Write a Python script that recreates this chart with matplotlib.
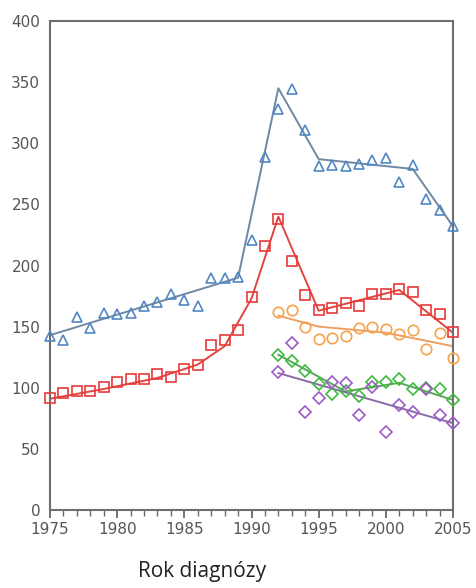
import matplotlib.pyplot as plt

years = list(range(1975, 2006))
years_late = list(range(1992, 2006))

blue = [142, 139, 158, 149, 161, 160, 161, 167, 170, 177, 172, 167, 190, 190, 191,
        221, 289, 328, 344, 311, 281, 282, 281, 283, 286, 288, 268, 282, 254, 245, 232]
red = [92, 96, 97, 97, 101, 105, 107, 107, 111, 109, 115, 119, 135, 139, 147,
       174, 216, 238, 204, 176, 164, 165, 169, 167, 177, 177, 181, 178, 164, 160, 146]
orange = [162, 164, 150, 140, 141, 142, 149, 150, 148, 144, 147, 132, 145, 124]
green = [127, 122, 114, 103, 95, 97, 93, 105, 105, 107, 99, 100, 99, 90]
purple = [113, 137, 80, 92, 105, 104, 78, 101, 64, 86, 80, 99, 78, 71]

# trend lines (joinpoint knots)
blue_fit_x = [1975, 1989, 1992, 1995, 2002, 2005]
blue_fit = [143, 190, 345, 287, 279, 232]
red_fit_x = [1975, 1979, 1983, 1986, 1988, 1990, 1992, 1995, 2001, 2005]
red_fit = [91, 99, 108, 119, 134, 173, 240, 163, 180, 145]
orange_fit_x = [1992, 1995, 2000, 2005]
orange_fit = [159, 150, 145, 134]
green_fit_x = [1992, 1997, 2001, 2005]
green_fit = [127, 97, 104, 90]
purple_fit_x = [1992, 2005]
purple_fit = [112, 71]

fig = plt.figure(figsize=(4.77, 5.88), dpi=100)
ax = fig.add_axes([50 / 477, 1 - 510 / 588, 403 / 477, 489 / 588])

series = [
    (years, blue, blue_fit_x, blue_fit, '#5087c4', '#6f88a4', '^', 7.5),
    (years, red, red_fit_x, red_fit, '#e83a3a', '#e0453f', 's', 6.5),
    (years_late, orange, orange_fit_x, orange_fit, '#f7a24a', '#eba165', 'o', 7.5),
    (years_late, green, green_fit_x, green_fit, '#3dba3d', '#5aa75a', 'D', 6),
    (years_late, purple, purple_fit_x, purple_fit, '#9b5cc8', '#8a6ca6', 'D', 6),
]
for x, y, fx, fy, c, lc, m, ms in series:
    ax.plot(fx, fy, color=lc, lw=1.4, zorder=2)
    ax.plot(x, y, linestyle='none', marker=m, ms=ms, mfc='none', mec=c, mew=1.2,
            zorder=3, clip_on=False)

ax.set_xlim(1975, 2005)
ax.set_ylim(0, 400)
ax.set_xticks(range(1975, 2006, 5))
ax.set_xticks(range(1975, 2006), minor=True)
ax.set_yticks(range(0, 401, 50))
ax.tick_params(axis='x', which='major', direction='out', length=6, width=1.3, color='#666666',
               labelsize=11, labelcolor='#555555', pad=3)
ax.tick_params(axis='x', which='minor', direction='out', length=4, width=1.0, color='#666666')
ax.tick_params(axis='y', length=0, labelsize=11, labelcolor='#555555', pad=7)
for lab in ax.get_xticklabels() + ax.get_yticklabels():
    lab.set_family('DejaVu Sans')
for s in ax.spines.values():
    s.set_color('#6e6e6e')
    s.set_linewidth(1.5)

fig.text(202 / 477, 1 - 572 / 588, 'Rok diagnózy', ha='center', va='center',
         fontsize=15, family='Open Sans', color='#222222')

fig.savefig('out.png', dpi=100)
